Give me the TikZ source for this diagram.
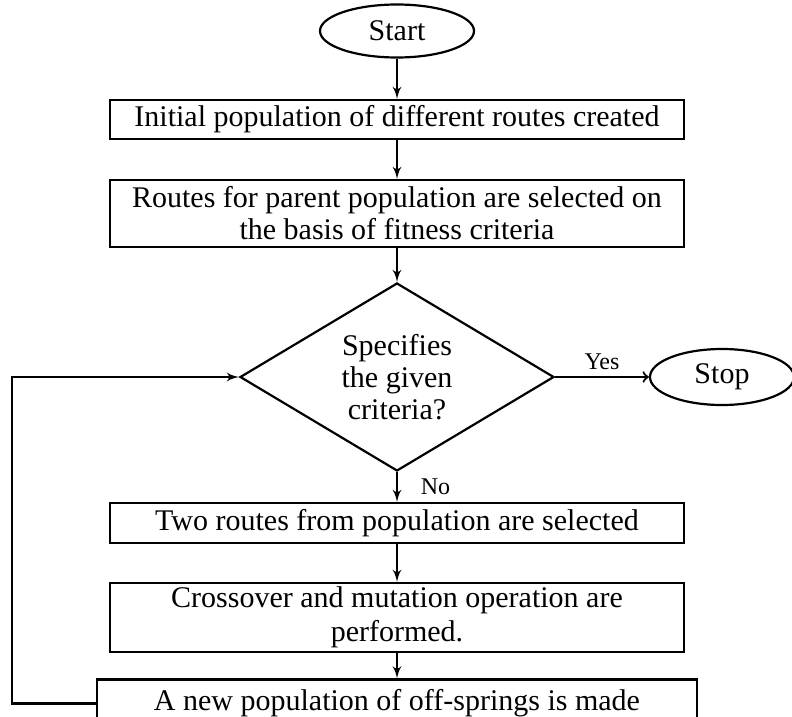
\documentclass[tikz,border=0pt]{standalone}
\usepackage{fontspec}
\setmainfont{Liberation Serif}
\usepackage{tikz}
\usetikzlibrary{shapes,arrows,positioning,calc}
\tikzstyle{block} = [draw, rectangle, minimum width=287pt, inner sep=2pt, align=center, font=\fontsize{15}{16}\selectfont]
\tikzstyle{term} = [draw, ellipse, inner sep=0pt, font=\fontsize{15}{16}\selectfont]
\tikzstyle{decision} = [draw, diamond, aspect=1.67, minimum width=157pt, minimum height=94pt, inner sep=0pt, align=center, font=\fontsize{15}{16}\selectfont]
\tikzstyle{tag} = [font=\fontsize{12}{14}\selectfont]
\tikzstyle{output} = [coordinate]

\begin{document}
\begin{tikzpicture}[auto, line width=1.1pt, >=latex']
    \useasboundingbox (0,0) rectangle (396pt,-358.5pt);
    % Blocks
    \node [term, minimum width=77pt, minimum height=26.5pt] (start) at (198.5pt,-15.5pt) {Start};
    \node [block, minimum height=19.5pt, below of=start, node distance=44.25pt] (init) {Initial population of different routes created};
    \node [block, minimum height=33.5pt, below of=init, node distance=47pt] (select) {Routes for parent population are selected on\\the basis of fitness criteria};
    \node [decision, below of=select, node distance=81.75pt] (decide) {Specifies\\the given\\criteria?};
    \node [term, minimum width=72pt, minimum height=28pt, right of=decide, node distance=162.5pt] (stop) {Stop};
    \node [block, minimum height=20pt, below of=decide, node distance=73pt] (pick) {Two routes from population are selected};
    \node [block, minimum height=33.5pt, below of=pick, node distance=47.25pt, font=\fontsize{15}{17}\selectfont] (cross) {Crossover and mutation operation are\\performed.};
    \node [block, minimum width=300pt, minimum height=24pt, below of=cross, node distance=43pt] (newpop) {A new population of off-springs is made};
    \node [output, left of=newpop, node distance=192.5pt] (loop) {};

    % Connections
    \draw [->] (start) -- (init);
    \draw [->] (init) -- (select);
    \draw [->] (select) -- (decide);
    \draw [-to] (decide) -- node [tag] {Yes} (stop);
    \draw [->] (decide) -- node [tag, xshift=8pt] {No} (pick);
    \draw [->] (pick) -- (cross);
    \draw [->] (cross) -- (newpop);
    \draw [->] (newpop) -- (loop) |- (decide);
\end{tikzpicture}
\end{document}
